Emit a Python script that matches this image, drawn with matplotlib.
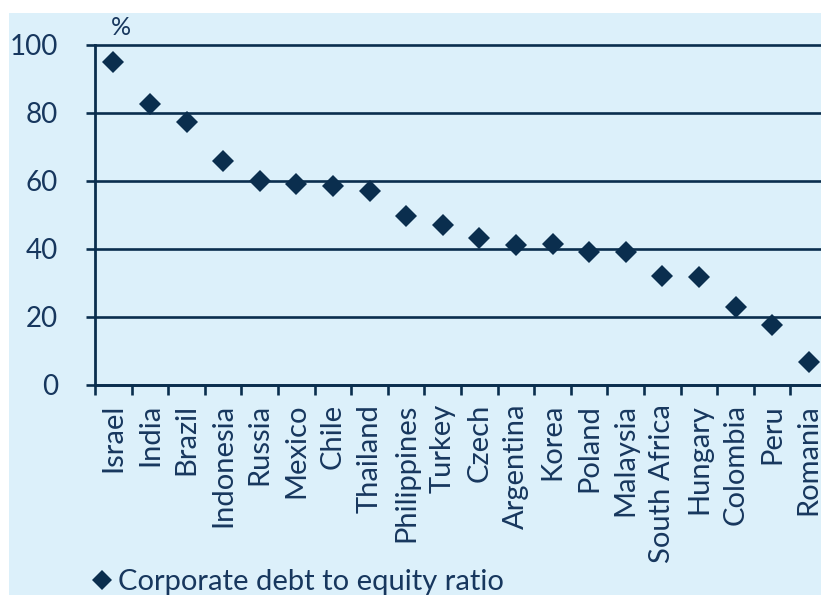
import numpy as np
import matplotlib
matplotlib.use("Agg")
import matplotlib.pyplot as plt
from matplotlib.lines import Line2D
from matplotlib.patches import Rectangle
from matplotlib.ticker import NullFormatter

# Corporate debt to equity ratio by country (%)
countries = ["Israel", "India", "Brazil", "Indonesia", "Russia", "Mexico", "Chile",
             "Thailand", "Philippines", "Turkey", "Czech", "Argentina", "Korea",
             "Poland", "Malaysia", "South Africa", "Hungary", "Colombia", "Peru",
             "Romania"]
debt_to_equity = [94.8, 82.6, 77.3, 65.8, 59.9, 58.9, 58.3, 56.9, 49.7, 46.9,
                  43.0, 41.1, 41.2, 39.0, 39.1, 32.0, 31.6, 22.9, 17.5, 6.7]
y_ticks = [0, 20, 40, 60, 80, 100]
series_label = "Corporate debt to equity ratio"

NAVY = "#0a2e4e"
TEXT = "#17375e"
PANEL = "#dcf0fa"

plt.rcParams['font.family'] = ['Lato', 'DejaVu Sans']

W, H = 821, 595
fig = plt.figure(figsize=(W / 100, H / 100), dpi=100)
fig.patch.set_facecolor("white")
fig.add_artist(Rectangle((9 / W, 0), 1 - 9 / W, 1 - 13 / H, transform=fig.transFigure,
                         facecolor=PANEL, edgecolor="none", zorder=0))

left, right = 95, 827
bottom, top = 384.5, 44.5
ax = fig.add_axes([left / W, (H - bottom) / H, (right - left) / W, (bottom - top) / H])
ax.set_facecolor("none")

n = len(countries)
x = np.arange(n)
ax.plot(x, debt_to_equity, linestyle="none", marker="D", ms=11, mew=0,
        color=NAVY, clip_on=False, zorder=3)

ax.set_xlim(-0.5, n - 0.5)
ax.set_ylim(0, 100)

# horizontal gridlines
ax.set_yticks(y_ticks)
ax.yaxis.grid(True, color=NAVY, lw=1.9)
for gl in ax.get_ygridlines():
    gl.set_clip_on(False)
ax.set_axisbelow(True)

for s in ["top", "right"]:
    ax.spines[s].set_visible(False)
for s in ["left", "bottom"]:
    ax.spines[s].set_color(NAVY)
    ax.spines[s].set_linewidth(2.0)

# category boundaries carry the ticks, category centres carry the names
ax.set_xticks(np.arange(-0.5, n, 1.0))
ax.xaxis.set_major_formatter(NullFormatter())
ax.set_xticks(x, minor=True)
ax.set_xticklabels(countries, minor=True, rotation=90)
ax.tick_params(axis="x", which="major", length=7.5, width=1.9, color=NAVY, direction="out")
ax.tick_params(axis="x", which="minor", length=0, pad=14, labelsize=21, labelcolor=TEXT)
ax.tick_params(axis="y", length=6.5, width=1.9, color=NAVY, pad=20, labelsize=20,
               labelcolor=TEXT)

ax.text(0.2, 101.5, "%", fontsize=18, color=TEXT, ha="center", va="bottom")

handle = Line2D([], [], linestyle="none", marker="D", ms=10.5, mew=0, color=NAVY)
fig.legend([handle], [series_label], loc="center left",
           bbox_to_anchor=(77 / W, 1 - 582 / H), frameon=False, fontsize=21,
           handlelength=0.7, handletextpad=0.2, borderpad=0, labelcolor=TEXT)

fig.savefig("out.png", dpi=100, facecolor="white")
